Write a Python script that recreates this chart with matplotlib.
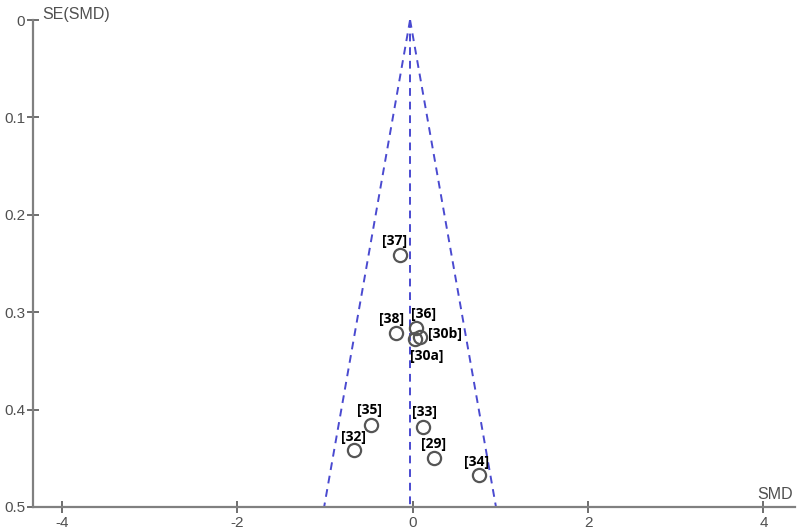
import matplotlib
matplotlib.use("Agg")
from matplotlib import pyplot as plt
import numpy as np

plt.rcParams["font.family"] = ["Liberation Sans", "DejaVu Sans"]
plt.rcParams["axes.unicode_minus"] = False

# study estimates
studies = ["[37]", "[38]", "[36]", "[30b]", "[30a]", "[35]", "[32]", "[33]", "[29]", "[34]"]
smd = [-0.14, -0.19, 0.04, 0.08, 0.03, -0.48, -0.67, 0.12, 0.24, 0.76]
se = [0.241, 0.321, 0.316, 0.325, 0.328, 0.416, 0.441, 0.418, 0.450, 0.467]
pooled_smd = -0.03
se_max = 0.5

x_ticks = [-4, -2, 0, 2, 4]
y_ticks = [0, 0.1, 0.2, 0.3, 0.4, 0.5]
y_tick_labels = ["0", "0.1", "0.2", "0.3", "0.4", "0.5"]

# label offsets in points (placement only)
label_offsets = {
    "[37]": (-4, 10), "[38]": (-3, 10), "[36]": (5, 10), "[30b]": (18, 2),
    "[30a]": (8, -12), "[35]": (-1, 11), "[32]": (0, 9), "[33]": (1, 11),
    "[29]": (0, 10), "[34]": (-2, 9),
}

axis_grey = "#808080"
funnel_blue = "#4a4ad0"

fig = plt.figure(figsize=(8, 5.3), dpi=100)
ax = fig.add_axes([33 / 800, 23 / 530, 762 / 800, 487 / 530])

# funnel
se_line = np.array([0, se_max])
dash = (0, (4, 3))
ax.plot(pooled_smd - 1.96 * se_line, se_line, ls=dash, color=funnel_blue, lw=1.4)
ax.plot(pooled_smd + 1.96 * se_line, se_line, ls=dash, color=funnel_blue, lw=1.4)
ax.plot([pooled_smd, pooled_smd], [0, se_max], ls=dash, color=funnel_blue, lw=1.4)

ax.plot(smd, se, "o", mfc="none", mec="#555555", mew=1.6, ms=9.5, zorder=3)
for name, x, y in zip(studies, smd, se):
    ax.annotate(name, (x, y), xytext=label_offsets[name], textcoords="offset points",
                ha="center", va="center", fontsize=10, fontweight="bold",
                family=["Open Sans", "DejaVu Sans"], color="black")

ax.set_xlim(-4.33, 4.36)
ax.set_ylim(se_max, 0)
ax.set_xticks(x_ticks)
ax.set_yticks(y_ticks)
ax.set_yticklabels(y_tick_labels)

for side in ["top", "right"]:
    ax.spines[side].set_visible(False)
for side in ["left", "bottom"]:
    ax.spines[side].set_color(axis_grey)
    ax.spines[side].set_linewidth(1.6)
ax.tick_params(direction="inout", length=9, width=1.2, color="#555555",
               labelsize=11, labelcolor="#505050")
ax.tick_params(axis="y", pad=1)
ax.tick_params(axis="x", pad=2)

ax.text(0.012, 1.012, "SE(SMD)", transform=ax.transAxes, fontsize=11.5,
        color="#505050", va="center", ha="left")
ax.text(0.997, 0.025, "SMD", transform=ax.transAxes, fontsize=11.5,
        color="#505050", va="center", ha="right")

fig.savefig("out.png", dpi=100, facecolor="white")
